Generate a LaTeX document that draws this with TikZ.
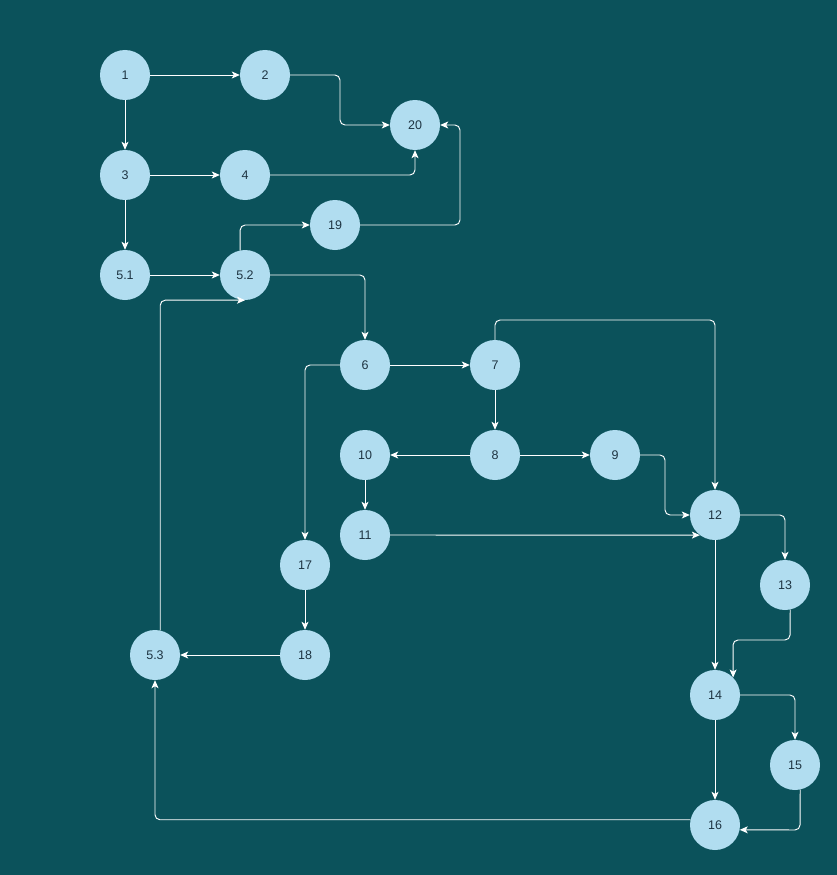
\documentclass[tikz,border=0pt]{standalone}
\usepackage{fontspec}
\setmainfont{Liberation Sans}
\usetikzlibrary{arrows.meta}
\definecolor{bgteal}{RGB}{11,82,91}
\definecolor{nodefill}{RGB}{177,221,240}
\definecolor{nodetext}{RGB}{30,52,66}
\begin{document}
\begin{tikzpicture}[x=1pt,y=-1pt,
  state/.style={circle,fill=nodefill,draw=none,minimum size=50pt,inner sep=0pt,
    text=nodetext,font=\fontsize{12.5}{12.5}\selectfont},
  link/.style={draw=white,line width=0.95pt,rounded corners=5pt,
    -{Stealth[length=8pt,width=7pt,inset=2pt]}}]
\fill[bgteal] (0,0) rectangle (837,875);
\useasboundingbox (0,0) rectangle (837,875);

% nodes
\node[state] (n1)  at (125,75)  {1};
\node[state] (n2)  at (265,75)  {2};
\node[state] (n20) at (415,125) {20};
\node[state] (n3)  at (125,175) {3};
\node[state] (n4)  at (245,175) {4};
\node[state] (n19) at (335,225) {19};
\node[state] (n51) at (125,275) {5.1};
\node[state] (n52) at (245,275) {5.2};
\node[state] (n6)  at (365,365) {6};
\node[state] (n7)  at (495,365) {7};
\node[state] (n10) at (365,455) {10};
\node[state] (n8)  at (495,455) {8};
\node[state] (n9)  at (615,455) {9};
\node[state] (n11) at (365,535) {11};
\node[state] (n12) at (715,515) {12};
\node[state] (n17) at (305,565) {17};
\node[state] (n13) at (785,585) {13};
\node[state] (n18) at (305,655) {18};
\node[state] (n53) at (155,655) {5.3};
\node[state] (n14) at (715,695) {14};
\node[state] (n15) at (795,765) {15};
\node[state] (n16) at (715,825) {16};

% connectors
\draw[link] (n1) -- (n2);
\draw[link] (n2.east) -- (340,75) -- (340,125) -- (n20.west);
\draw[link] (n1) -- (n3);
\draw[link] (n3) -- (n4);
\draw[link] (n4.east) -| (n20.south);
\draw[link] (n3) -- (n51);
\draw[link] (n51) -- (n52);
\draw[link] (n52.101.5) |- (n19.west);
\draw[link] (n19.east) -- (460,225) -- (460,125) -- (n20.east);
\draw[link] (n52.east) -| (n6.north);
\draw[link] (n6) -- (n7);
\draw[link] (n6.west) -| (n17.north);
\draw[link] (n7) -- (n8);
\draw[link] (n7.north) -- (495,320) -| (n12.north);
\draw[link] (n8) -- (n10);
\draw[link] (n8) -- (n9);
\draw[link] (n9.east) -- (665,455) -- (665,515) -- (n12.west);
\draw[link] (n10) -- (n11);
\draw[link] (n11.east) -- (n12.233);
\draw[link] (n12.east) -| (n13.north);
\draw[link] (n12) -- (n14);
\draw[link] (n13.-78) -- (790,640) -- (733,640) -- (n14.44);
\draw[link] (n14.east) -| (n15.north);
\draw[link] (n14) -- (n16);
\draw[link] (n15.-78) -- (800,830) -- (n16.-11.5);
\draw[link] (n16.168.5) -| (n53.south);
\draw[link] (n17) -- (n18);
\draw[link] (n18) -- (n53);
\draw[link] (n53.78) |- (n52.south);
\end{tikzpicture}
\end{document}
